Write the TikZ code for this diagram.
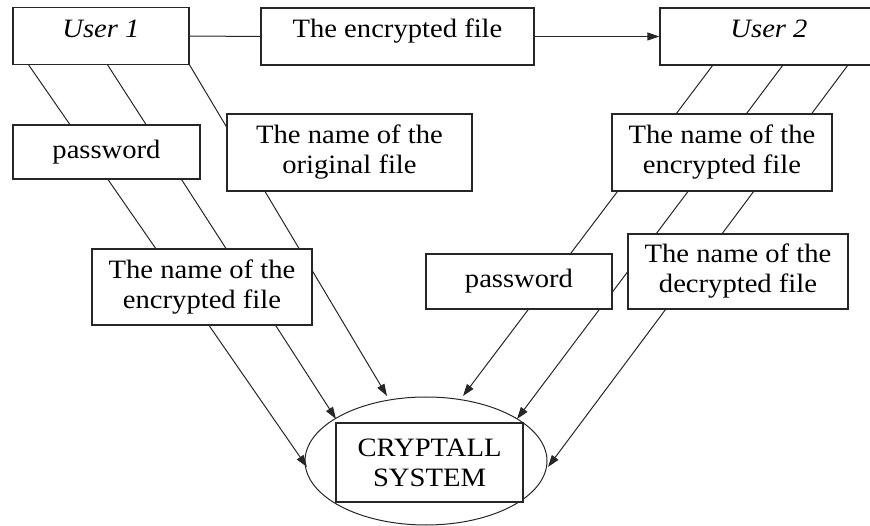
\documentclass[tikz,border=0pt]{standalone}
\usepackage{fontspec}
\setmainfont{Liberation Serif}[FakeStretch=1.08]
\usetikzlibrary{arrows.meta,backgrounds,shapes.geometric}
\begin{document}
\begin{tikzpicture}[x=1pt,y=-1pt,
  box/.style={draw=black!85,line width=1.3pt,fill=white,inner sep=0pt,align=center,
    font=\fontsize{26.5}{30}\selectfont},
  topbox/.style={box,text height=30pt,text depth=27pt},
  link/.style={draw=black!85,line width=1pt},
  arr/.style={link,-{Triangle[length=12pt,width=8pt]}}]
\useasboundingbox (0,0) rectangle (870,526);
\clip (0,0) rectangle (870,526);
% top row
\node[topbox,minimum width=176pt] (u1) at (101,36) {\itshape User 1};
\node[topbox,minimum width=273pt] (enc) at (397.5,36.5) {The encrypted file};
\node[topbox,minimum width=218pt] (u2) at (769,36.5) {\itshape User 2};
% left column
\node[box,minimum width=187pt,minimum height=54pt] (pw1) at (106.5,152) {password};
\node[box,minimum width=245pt,minimum height=77pt] (orig) at (349.5,152.5) {The name of the\\original file};
\node[box,minimum width=220pt,minimum height=76pt] (encn1) at (202,287) {The name of the\\encrypted file};
% right column
\node[box,minimum width=220pt,minimum height=77pt] (encn2) at (722,152.5) {The name of the\\encrypted file};
\node[box,minimum width=186pt,minimum height=55pt] (pw2) at (519,281.5) {password};
\node[box,minimum width=220pt,minimum height=75pt] (dec) at (738,271.5) {The name of the\\decrypted file};
% system
\node[draw=black!85,line width=1pt,ellipse,minimum width=242pt,minimum height=128pt,inner sep=0pt] (sys) at (426,461) {};
\node[box,minimum width=187pt,minimum height=79pt] (sysbox) at (429.5,462.5) {CRYPTALL\\SYSTEM};
% coordinates
\coordinate (s1) at (28,64);   \coordinate (e1) at (307,467);
\coordinate (s2) at (107,64);  \coordinate (e2) at (336,419);
\coordinate (s3) at (189,64);  \coordinate (e3) at (387,396);
\coordinate (s4) at (713,65);  \coordinate (e4) at (463,396);
\coordinate (s5) at (783,65);  \coordinate (e5) at (517,419);
\coordinate (s6) at (848,65);  \coordinate (e6) at (548,467);
\draw[link] (u1.east) -- (enc.west);
\draw[arr] (enc.east) -- (u2.west);
\begin{scope}[on background layer]
\draw[arr] (s1) -- (e1);
\draw[arr] (s2) -- (e2);
\draw[arr] (s3) -- (e3);
\draw[arr] (s4) -- (e4);
\draw[arr] (s5) -- (e5);
\draw[arr] (s6) -- (e6);
\end{scope}
\end{tikzpicture}
\end{document}
